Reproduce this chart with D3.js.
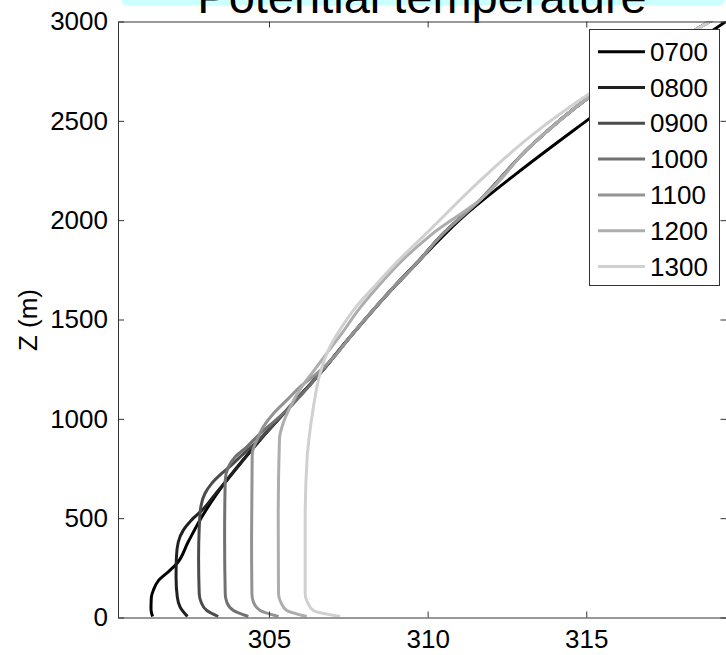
<!DOCTYPE html>
<meta charset="utf-8">
<style>
    body { margin: 0; background: white; }
    svg { display: block; font-family: "Liberation Sans", Arial, Helvetica, sans-serif; }
</style>
<body>
<script src="https://d3js.org/d3.v7.min.js"></script>
<script>
    // hour labels of each sounding
    var times = ["0700", "0800", "0900", "1000", "1100", "1200", "1300"];
    var greys = ["#000000", "#202020", "#4b4b4b", "#717171", "#939393", "#adadad", "#d0d0d0"];

    var xTicks = [305, 310, 315];
    var yTicks = [0, 500, 1000, 1500, 2000, 2500, 3000];

    // [theta (K), z (m)]
    // common free-troposphere part shared by the morning profiles
    var freeLower = [[305.56, 1044], [306.61, 1229], [307.56, 1413], [308.95, 1666], [309.75, 1800]];
    var upper0700 = [[311.13, 2019], [312.82, 2237], [315.13, 2515], [317.2, 2760], [319.5, 3010]];
    var upperRest = [[310.4, 1918], [311.66, 2103], [313.24, 2372], [315.13, 2624], [317.1, 2830], [319.0, 3010]];

    var p0700 = [[301.33, 5], [301.28, 40], [301.29, 100], [301.36, 140], [301.52, 187], [301.86, 235],
                 [302.09, 271], [302.45, 380], [302.88, 506], [303.67, 691], [304.62, 876]];
    var p0800 = [[302.43, 5], [302.2, 52], [302.11, 102], [302.07, 200], [302.08, 300], [302.14, 380],
                 [302.3, 440], [302.55, 490], [302.95, 550], [303.3, 620], [303.67, 691], [304.62, 876]];
    var p0900 = [[303.40, 5], [303.04, 35], [302.86, 77], [302.80, 120], [302.78, 300], [302.8, 450],
                 [302.85, 556], [302.98, 624], [303.19, 674], [303.51, 725], [303.8, 765], [304.2, 825], [304.62, 885]];
    var p1000 = [[304.35, 5], [303.88, 35], [303.67, 77], [303.62, 120], [303.6, 400], [303.62, 691],
                 [303.72, 758], [303.93, 808], [304.30, 859], [304.72, 926], [305.15, 985]];
    var p1100 = [[305.30, 5], [304.72, 35], [304.51, 77], [304.46, 120], [304.45, 400], [304.47, 825],
                 [304.62, 893], [304.82, 960], [305.14, 1027], [305.56, 1094], [305.98, 1161], [306.51, 1229],
                 [307.1, 1320], [307.56, 1413]];
    var p1200 = [[306.19, 5], [305.56, 35], [305.37, 77], [305.30, 120], [305.29, 500], [305.33, 900],
                 [305.45, 980], [305.67, 1060], [306.03, 1161], [306.35, 1229], [306.82, 1330], [307.3, 1431],
                 [307.8, 1545], [308.4, 1660], [309.15, 1790], [310.1, 1925]];
    var p1300 = [[307.24, 5], [306.40, 35], [306.21, 77], [306.14, 120], [306.14, 500], [306.2, 800],
                 [306.26, 900], [306.40, 1060], [306.61, 1229], [306.87, 1346], [307.30, 1464], [307.75, 1565],
                 [308.4, 1680], [309.1, 1800], [310.0, 1940], [311.66, 2200], [313.24, 2422],
                 [315.13, 2640], [317.1, 2830], [319.0, 3010]];

    var profiles = [
        p0700.concat(freeLower, upper0700),
        p0800.concat(freeLower, upperRest),
        p0900.concat(freeLower, upperRest),
        p1000.concat(freeLower, upperRest),
        p1100.concat(freeLower.slice(3), upperRest),
        p1200.concat(upperRest.slice(1)),
        p1300
    ];

    var width = 726,
        height = 655;

    var plotLeft = 118, plotRight = 726.5, plotTop = 21.5, plotBottom = 617.5;

    var x = d3.scaleLinear().domain([300.24, 319.42]).range([plotLeft, plotRight]);
    var y = d3.scaleLinear().domain([0, 3000]).range([plotBottom, plotTop]);

    var svg = d3.select("body").append("svg")
        .attr("width", width)
        .attr("height", height);

    // title box, mostly off the top of the picture
    svg.append("rect")
        .attr("x", 121.5).attr("y", -40)
        .attr("width", 603.5).attr("height", 45.5)
        .attr("rx", 6)
        .attr("fill", "#ccffff");
    svg.append("text")
        .attr("x", 422).attr("y", 12.7)
        .attr("text-anchor", "middle")
        .style("font-size", "47px")
        .text("Potential temperature");

    svg.append("clipPath").attr("id", "plot")
        .append("rect")
        .attr("x", plotLeft).attr("y", plotTop)
        .attr("width", plotRight - plotLeft).attr("height", plotBottom - plotTop);

    var line = d3.line()
        .x(function(d) { return x(d[0]); })
        .y(function(d) { return y(d[1]); })
        .curve(d3.curveMonotoneY);

    svg.append("g").attr("clip-path", "url(#plot)")
        .selectAll("path")
        .data(profiles)
        .enter().append("path")
        .attr("d", line)
        .attr("fill", "none")
        .attr("stroke", function(d, i) { return greys[i]; })
        .attr("stroke-width", 3)
        .attr("stroke-linejoin", "round");

    // axes, ticks pointing inwards
    function styleAxis(g) {
        g.selectAll("path, line").attr("stroke", "#333").attr("stroke-width", 1);
        g.selectAll("text").attr("fill", "#000").style("font-size", "26px");
        g.attr("font-family", null).attr("font-size", null);
    }

    svg.append("g")
        .attr("transform", "translate(0," + plotBottom + ")")
        .call(d3.axisBottom(x).tickValues(xTicks).tickSize(-6).tickSizeOuter(0).tickPadding(12).tickFormat(d3.format("d")))
        .call(styleAxis);
    svg.append("g")
        .attr("transform", "translate(0," + plotTop + ")")
        .call(d3.axisTop(x).tickValues(xTicks).tickSize(-6).tickSizeOuter(0).tickFormat(""))
        .call(styleAxis);
    svg.append("g")
        .attr("transform", "translate(" + plotLeft + ",0)")
        .call(d3.axisLeft(y).tickValues(yTicks).tickSize(-6).tickSizeOuter(0).tickPadding(10).tickFormat(d3.format("d")))
        .call(styleAxis);
    svg.append("g")
        .attr("transform", "translate(" + plotRight + ",0)")
        .call(d3.axisRight(y).tickValues(yTicks).tickSize(-6).tickSizeOuter(0).tickFormat(""))
        .call(styleAxis);

    svg.append("text")
        .attr("transform", "translate(37,320) rotate(-90)")
        .attr("text-anchor", "middle")
        .style("font-size", "26px")
        .text("Z (m)");

    // legend
    var legend = svg.append("g");
    legend.append("rect")
        .attr("x", 589.5).attr("y", 29.5)
        .attr("width", 130).attr("height", 256)
        .attr("fill", "white")
        .attr("stroke", "#333");

    var rows = legend.selectAll("g.row")
        .data(times)
        .enter().append("g")
        .attr("class", "row")
        .attr("transform", function(d, i) { return "translate(0," + (51.7 + i * 35.8) + ")"; });
    rows.append("line")
        .attr("x1", 598).attr("x2", 645)
        .attr("stroke", function(d, i) { return greys[i]; })
        .attr("stroke-width", 3);
    rows.append("text")
        .attr("x", 650)
        .attr("dy", "0.35em")
        .style("font-size", "26px")
        .text(function(d) { return d; });
</script>
</body>
</html>
